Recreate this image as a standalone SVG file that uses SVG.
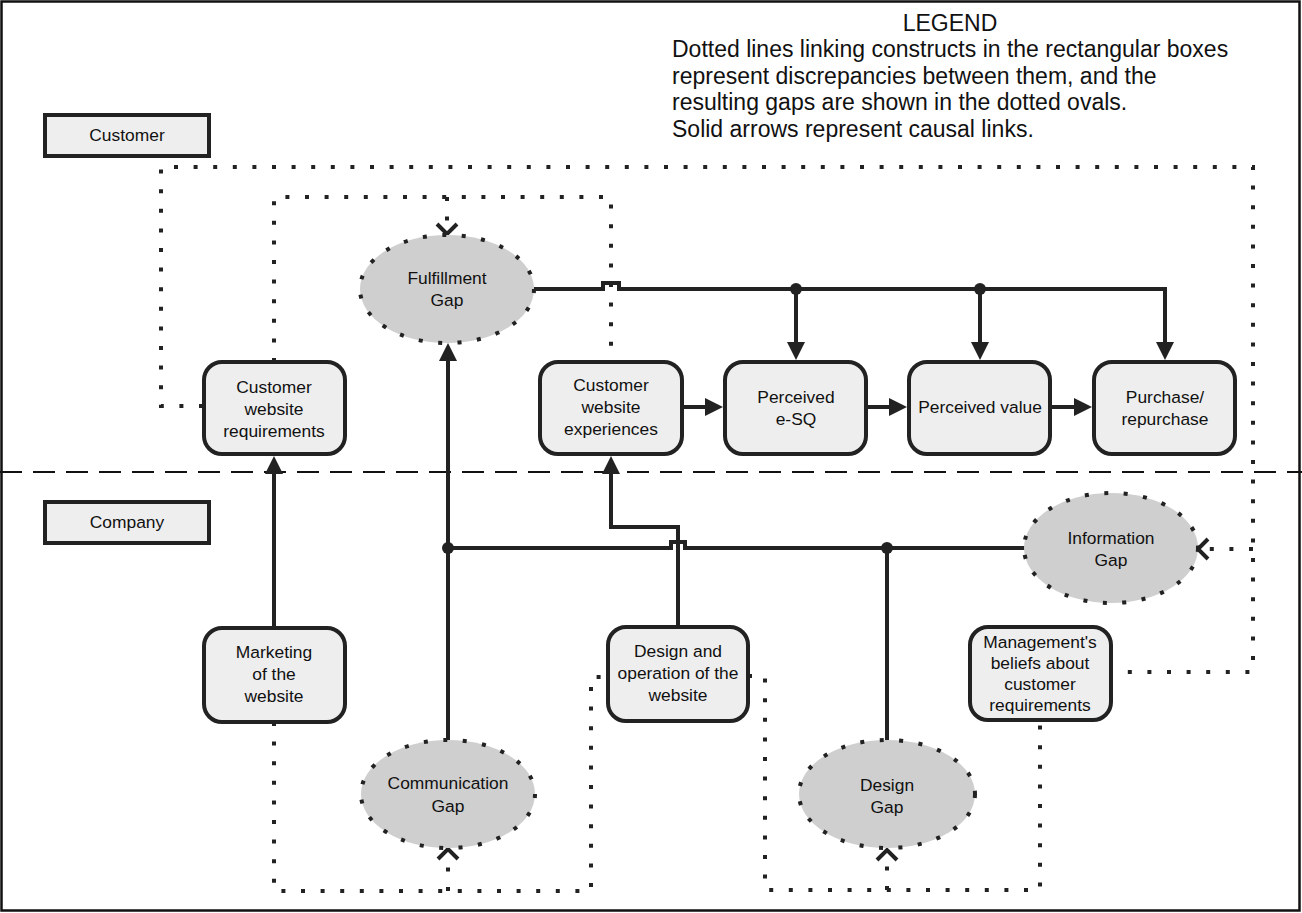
<svg xmlns="http://www.w3.org/2000/svg" width="1302" height="913" viewBox="0 0 1302 913">
<style>
  .box{fill:#eeeeee;stroke:#222;stroke-width:4}
  .gap{fill:#cfcfcf;stroke:#222;stroke-width:4;stroke-dasharray:4 15.5}
  .t{font-family:"Liberation Sans",Arial,sans-serif;font-size:17.4px;fill:#111;text-anchor:middle}
  .lg{font-family:"Liberation Sans",Arial,sans-serif;font-size:23px;fill:#111}
  .sol{fill:none;stroke:#222;stroke-width:4}
  .dot{fill:none;stroke:#222;stroke-width:4;stroke-dasharray:4 15.6}
  .jn{fill:#222}
</style>
<defs>
  <marker id="arr" viewBox="0 0 18 18" refX="8" refY="9" markerWidth="18" markerHeight="18" markerUnits="userSpaceOnUse" orient="auto">
    <path d="M0,0 L18,9 L0,18 z" fill="#222"/>
  </marker>
  <marker id="chev" viewBox="-3 -3 16 26" refX="10" refY="10" markerWidth="16" markerHeight="26" markerUnits="userSpaceOnUse" orient="auto" overflow="visible">
    <path d="M0,0 L10,10 L0,20" fill="none" stroke="#222" stroke-width="4"/>
  </marker>
</defs>
<rect x="0" y="0" width="1302" height="913" fill="#fff"/>
<rect x="1.5" y="1.5" width="1298" height="909" fill="none" stroke="#111" stroke-width="2.5"/>
<line x1="0" y1="472" x2="1302" y2="472" stroke="#111" stroke-width="2" stroke-dasharray="22 11"/>

<g id="legend">
  <text class="lg" x="950" y="31" text-anchor="middle">LEGEND</text>
  <text class="lg" x="672" y="57">Dotted lines linking constructs in the rectangular boxes</text>
  <text class="lg" x="672" y="84">represent discrepancies between them, and the</text>
  <text class="lg" x="672" y="110">resulting gaps are shown in the dotted ovals.</text>
  <text class="lg" x="672" y="137">Solid arrows represent causal links.</text>
</g>

<g id="connectors">
  <!-- dotted discrepancy lines -->
  <path class="dot" d="M203,406 H161 V167 H1253 V672 H1111"/>
  <path class="dot" d="M1253,549 H1198" marker-end="url(#chev)"/>
  <path class="dot" d="M274,362 V197 H611 V360"/>
  <path class="dot" d="M447,197 V234" marker-end="url(#chev)"/>
  <path class="dot" d="M274,722 V891 H591 V677 H608"/>
  <path class="dot" d="M448,891 V849" marker-end="url(#chev)"/>
  <path class="dot" d="M748,676 H765 V890 H1040 V720"/>
  <path class="dot" d="M887,890 V850" marker-end="url(#chev)"/>
  <!-- solid causal links -->
  <path class="sol" d="M534,289 H603 V283 H619 V289 H1165 V350" marker-end="url(#arr)"/>
  <path class="sol" d="M796,289 V350" marker-end="url(#arr)"/>
  <path class="sol" d="M980,289 V350" marker-end="url(#arr)"/>
  <path class="sol" d="M684,407 H713" marker-end="url(#arr)"/>
  <path class="sol" d="M868,407 H897" marker-end="url(#arr)"/>
  <path class="sol" d="M1052,407 H1082" marker-end="url(#arr)"/>
  <path class="sol" d="M274,626 V466" marker-end="url(#arr)"/>
  <path class="sol" d="M448,740 V353" marker-end="url(#arr)"/>
  <path class="sol" d="M448,548 H671 V542 H685 V548 H1025"/>
  <path class="sol" d="M678,625 V527 H611 V466" marker-end="url(#arr)"/>
  <path class="sol" d="M887,740 V548"/>
  <circle class="jn" cx="796" cy="289" r="6"/>
  <circle class="jn" cx="980" cy="289" r="6"/>
  <circle class="jn" cx="448" cy="548" r="6"/>
  <circle class="jn" cx="887" cy="548" r="6"/>
</g>

<g id="customer-label">
  <rect class="box" x="45" y="115" width="164" height="41"/>
  <text class="t" x="127" y="141">Customer</text>
</g>
<g id="company-label">
  <rect class="box" x="45" y="502" width="164" height="41"/>
  <text class="t" x="127" y="528">Company</text>
</g>

<g id="cust-req">
  <rect class="box" x="204" y="362" width="141" height="92" rx="18"/>
  <text class="t" x="274" y="393">Customer</text>
  <text class="t" x="274" y="415">website</text>
  <text class="t" x="274" y="437">requirements</text>
</g>
<g id="cust-exp">
  <rect class="box" x="540" y="362" width="142" height="92" rx="18"/>
  <text class="t" x="611" y="391">Customer</text>
  <text class="t" x="611" y="413">website</text>
  <text class="t" x="611" y="435">experiences</text>
</g>
<g id="esq">
  <rect class="box" x="725" y="362" width="141" height="92" rx="18"/>
  <text class="t" x="796" y="403">Perceived</text>
  <text class="t" x="796" y="425">e-SQ</text>
</g>
<g id="value">
  <rect class="box" x="909" y="362" width="141" height="92" rx="18"/>
  <text class="t" x="980" y="413">Perceived value</text>
</g>
<g id="purchase">
  <rect class="box" x="1094" y="362" width="141" height="92" rx="18"/>
  <text class="t" x="1165" y="403">Purchase/</text>
  <text class="t" x="1165" y="425">repurchase</text>
</g>
<g id="marketing">
  <rect class="box" x="204" y="628" width="141" height="94" rx="18"/>
  <text class="t" x="274" y="658">Marketing</text>
  <text class="t" x="274" y="680">of the</text>
  <text class="t" x="274" y="702">website</text>
</g>
<g id="design-op">
  <rect class="box" x="608" y="627" width="140" height="94" rx="18"/>
  <text class="t" x="678" y="657">Design and</text>
  <text class="t" x="678" y="679">operation of the</text>
  <text class="t" x="678" y="701">website</text>
</g>
<g id="mgmt">
  <rect class="box" x="970" y="627" width="141" height="93" rx="18"/>
  <text class="t" x="1040" y="648">Management's</text>
  <text class="t" x="1040" y="669">beliefs about</text>
  <text class="t" x="1040" y="690">customer</text>
  <text class="t" x="1040" y="711">requirements</text>
</g>

<g id="fulfillment-gap">
  <ellipse class="gap" cx="447" cy="289" rx="87" ry="54"/>
  <text class="t" x="447" y="284">Fulfillment</text>
  <text class="t" x="447" y="306">Gap</text>
</g>
<g id="communication-gap">
  <ellipse class="gap" cx="448" cy="794" rx="87" ry="54"/>
  <text class="t" x="448" y="789">Communication</text>
  <text class="t" x="448" y="812">Gap</text>
</g>
<g id="design-gap">
  <ellipse class="gap" cx="887" cy="794" rx="88" ry="54"/>
  <text class="t" x="887" y="791">Design</text>
  <text class="t" x="887" y="813">Gap</text>
</g>
<g id="information-gap">
  <ellipse class="gap" cx="1111" cy="548" rx="87" ry="55"/>
  <text class="t" x="1111" y="544">Information</text>
  <text class="t" x="1111" y="566">Gap</text>
</g>
</svg>
